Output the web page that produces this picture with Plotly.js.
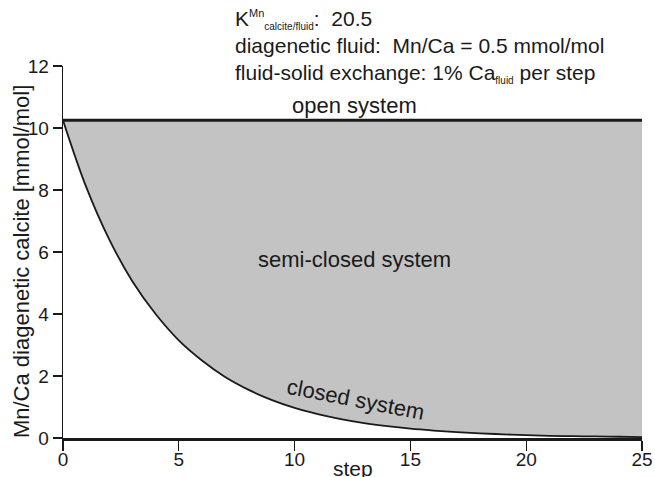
<!DOCTYPE html>
<html>
<head>
<meta charset="utf-8">
<script src="https://cdn.plot.ly/plotly-3.0.1.min.js"></script>
<style>
  html, body { margin: 0; padding: 0; background: #fff; }
  #chart { width: 655px; height: 477px; }
</style>
</head>
<body>
<div id="chart"></div>
<script>
// Mn/Ca of diagenetic calcite per exchange step
const steps = [0, 1, 2, 3, 4, 5, 6, 7, 8, 9, 10, 11, 12, 13, 14, 15, 16, 17, 18, 19, 20, 21, 22, 23, 24, 25];
const closedSystem = [10.25, 8.1, 6.4, 5.05, 4.0, 3.15, 2.5, 1.97, 1.56, 1.23, 0.97, 0.77, 0.61, 0.48, 0.38, 0.30, 0.24, 0.19, 0.15, 0.12, 0.09, 0.07, 0.06, 0.05, 0.04, 0.03];
const openSystemLevel = 10.25;   // K (20.5) x fluid Mn/Ca (0.5)
const openSystem = steps.map(() => openSystemLevel);

const xTicks = [0, 5, 10, 15, 20, 25];
const yTicks = [0, 2, 4, 6, 8, 10, 12];

const ink = '#1a1a1a';
const font = 'Liberation Sans, Arial, sans-serif';

const traces = [
  {
    x: steps, y: openSystem, mode: 'lines', type: 'scatter',
    line: { color: ink, width: 3 }, hoverinfo: 'skip', showlegend: false
  },
  {
    x: steps, y: closedSystem, mode: 'lines', type: 'scatter',
    fill: 'tonexty', fillcolor: '#c3c3c3',
    line: { color: ink, width: 1.8, shape: 'spline', smoothing: 1 },
    hoverinfo: 'skip', showlegend: false
  }
];

const layout = {
  width: 655, height: 477,
  margin: { l: 63, r: 13, t: 66, b: 39 },
  paper_bgcolor: '#fff', plot_bgcolor: '#fff',
  font: { family: font, size: 19, color: ink },
  xaxis: {
    range: [0, 25], tickvals: xTicks, ticktext: xTicks.map(String),
    showgrid: false, zeroline: false,
    showline: true, linecolor: ink, linewidth: 3,
    ticks: 'outside', ticklen: 10, tickwidth: 1.2, tickcolor: ink,
    ticklabelstandoff: -8,
    tickfont: { size: 19, family: font, color: ink }
  },
  yaxis: {
    range: [0, 12], tickvals: yTicks, ticktext: yTicks.map(String),
    showgrid: false, zeroline: false,
    showline: true, linecolor: ink, linewidth: 1.3,
    ticks: 'outside', ticklen: 9, tickwidth: 2, tickcolor: ink,
    tickfont: { size: 19, family: font, color: ink }
  },
  annotations: [
    // axis titles
    { x: 12.5, y: -0.02, xref: 'x', yref: 'paper', yanchor: 'top', yshift: -10,
      text: 'step', showarrow: false,
      font: { size: 21, family: font, color: ink } },
    { x: -0.0725, y: 0.473, xref: 'paper', yref: 'paper', xanchor: 'center', yanchor: 'middle',
      textangle: -90, text: 'Mn/Ca diagenetic calcite [mmol/mol]', showarrow: false,
      font: { size: 22, family: font, color: ink } },
    // region labels
    { x: 12.6, y: 10.71, xref: 'x', yref: 'y', text: 'open system', showarrow: false,
      font: { size: 22, family: font, color: ink } },
    { x: 12.6, y: 5.77, xref: 'x', yref: 'y', text: 'semi-closed system', showarrow: false,
      font: { size: 22, family: font, color: ink } },
    { x: 12.65, y: 1.25, xref: 'x', yref: 'y', text: 'closed system', showarrow: false, textangle: 11,
      font: { size: 22, family: font, color: ink } },
    // model parameters
    { x: 0.294, y: 1.124, xref: 'paper', yref: 'paper', xanchor: 'left', yanchor: 'middle', align: 'left',
      showarrow: false,
      text: 'K<sup><span style="font-size:11px">Mn</span></sup><sub><span style="font-size:10px">calcite/fluid</span></sub>:  20.5',
      font: { size: 21, family: font, color: ink } },
    { x: 0.294, y: 1.056, xref: 'paper', yref: 'paper', xanchor: 'left', yanchor: 'middle', align: 'left',
      showarrow: false, text: 'diagenetic fluid:  Mn/Ca = 0.5 mmol/mol',
      font: { size: 21, family: font, color: ink } },
    { x: 0.294, y: 0.981, xref: 'paper', yref: 'paper', xanchor: 'left', yanchor: 'middle', align: 'left',
      showarrow: false,
      text: 'fluid-solid exchange: 1% Ca<sub><span style="font-size:10px">fluid</span></sub> per step',
      font: { size: 21, family: font, color: ink } }
  ]
};

Plotly.newPlot('chart', traces, layout, { displayModeBar: false, staticPlot: true });
</script>
</body>
</html>
